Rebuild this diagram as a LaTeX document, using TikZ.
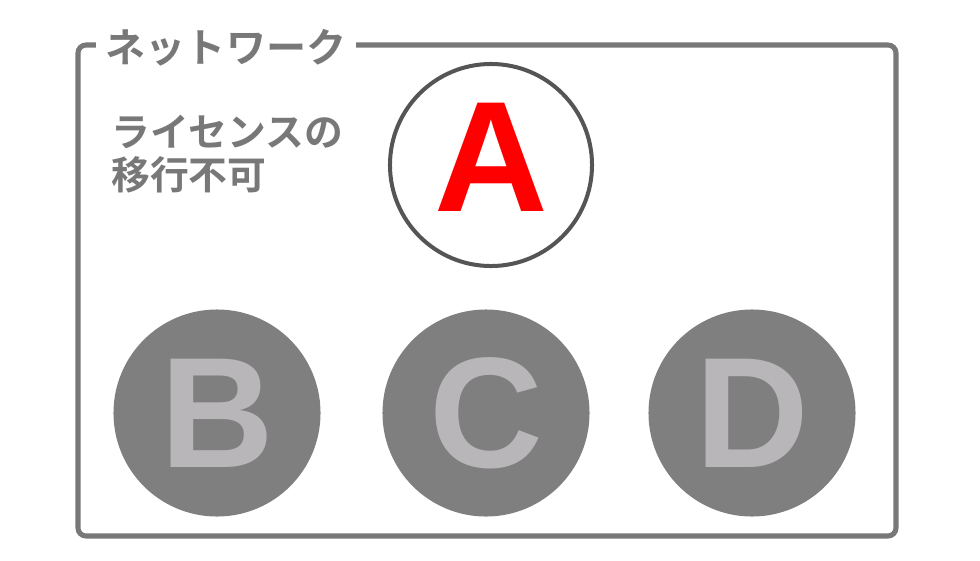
\documentclass[tikz,border=0pt]{standalone}
\usepackage{fontspec}
\setmainfont{Liberation Sans}
\newfontfamily\jp{Noto Sans CJK JP}[BoldFont={Noto Sans CJK JP Bold}]
\usetikzlibrary{calc}
\definecolor{boxgray}{HTML}{787878}
\definecolor{ringgray}{HTML}{555555}
\definecolor{diskgray}{HTML}{7F7F7F}
\definecolor{lettergray}{HTML}{B8B6B8}

\begin{document}
\begin{tikzpicture}[x=0.025cm,y=-0.025cm,
    jptext/.style={text=boxgray,font=\jp\bfseries\fontsize{27.6}{30}\selectfont,inner sep=0pt},
    otherpc/.style={circle,fill=diskgray,minimum size=5.175cm,inner sep=0pt,text=lettergray,font=\bfseries\fontsize{112}{112}\selectfont}]
            \useasboundingbox (0,0) rectangle (980,560);
            % network frame
            \draw[boxgray,line width=3.6pt,rounded corners=5.7pt] (78,45) rectangle (896,536);
            \node[jptext,fill=white,inner xsep=7pt,inner ysep=2pt,font=\jp\bfseries\fontsize{28.5}{30}\selectfont] (net) at (226,48) {ネットワーク};
            \node[jptext,anchor=west] (note1) at (111,132) {ライセンスの};
            \node[jptext,anchor=west] (note2) at (111,175) {移行不可};
            % licensed pc
            \node[circle,draw=ringgray,line width=2.85pt,minimum size=5.05cm,inner sep=0pt,text depth=11.4pt,text=red,font=\bfseries\fontsize{112}{112}\selectfont] (pcA) at (491,165) {A};
            % other pcs
            \node[otherpc] (pcB) at (217,413) {B};
            \node[otherpc] (pcC) at (486,413) {C};
            \node[otherpc] (pcD) at (752,413) {D};
        \end{tikzpicture}
\end{document}
